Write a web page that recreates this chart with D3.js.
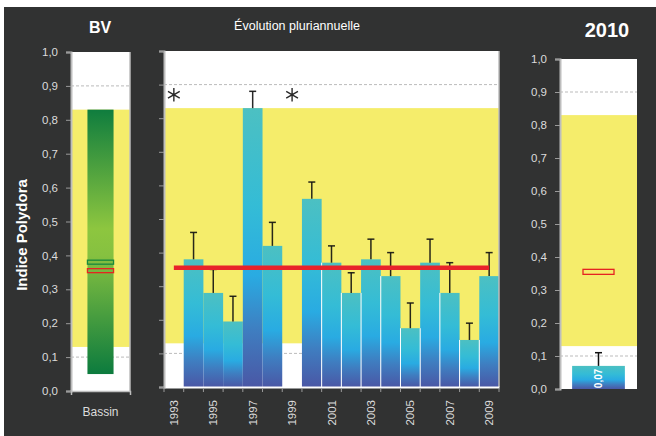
<!DOCTYPE html>
<html><head><meta charset="utf-8">
<script src="https://cdn.jsdelivr.net/npm/d3@7"></script>
<style>body{margin:0;background:#fff}text{font-family:'Liberation Sans',Arial,sans-serif}</style>
</head><body>
<svg id="c" width="656" height="436"></svg>
<script>
// ---- data ----
const years = [1993,1994,1995,1996,1997,1998,1999,2000,2001,2002,2003,2004,2005,2006,2007,2008,2009];
const values = [null,0.38,0.28,0.195,0.83,0.42,null,0.56,0.37,0.28,0.38,0.33,0.175,0.37,0.28,0.14,0.33];
const errorTops = [null,0.46,0.35,0.27,0.88,0.49,null,0.61,0.42,0.34,0.44,0.40,0.25,0.44,0.37,0.19,0.40];
const noDataYears = [1993,1999];
const noDataMarkerValue = [0.87];
const yearLabels = [1993,1995,1997,1999,2001,2003,2005,2007,2009];
const meanValue = [0.355];
const refBand = [0.13,0.83];
const basinCategory = ["Bassin"];
const basinRange = [0.05,0.83];
const basinMean = [0.38];
const currentCategory = ["2010"];
const currentValue = [0.07];
const currentErrorTop = [0.11];
const currentLabel = ["0,07"];
const yTicks = [0,0.1,0.2,0.3,0.4,0.5,0.6,0.7,0.8,0.9,1.0];
const gridValues = [0.1,0.9];

const svg = d3.select("#c");
const fmt = d => d.toFixed(1).replace(".", ",");
const AX = "#bdbdbd", LBL = "#dcdcdc", YEL = "#f5ed6b";

svg.append("rect").attr("x",0).attr("y",0).attr("width",656).attr("height",436).attr("fill","#fff");
svg.append("rect").attr("x",4).attr("y",7).attr("width",652).attr("height",429).attr("fill","#313232");

const defs = svg.append("defs");
const gb = defs.append("linearGradient").attr("id","blueG").attr("x1",0).attr("y1",0).attr("x2",0).attr("y2",1);
[[0,"#4cc0c2"],[0.35,"#34bcd6"],[0.6,"#29abe2"],[0.8,"#3f7dc0"],[1,"#4a57a5"]].forEach(s=>gb.append("stop").attr("offset",s[0]).attr("stop-color",s[1]));
const gg = defs.append("linearGradient").attr("id","greenG").attr("x1",0).attr("y1",0).attr("x2",0).attr("y2",1);
[[0,"#0f7d3e"],[0.45,"#8dc63f"],[0.55,"#86c140"],[1,"#0c7b3e"]].forEach(s=>gg.append("stop").attr("offset",s[0]).attr("stop-color",s[1]));

function panelBase(x0,x1,y){
  const g = svg.append("g");
  g.append("rect").attr("x",x0).attr("y",y(1)).attr("width",x1-x0).attr("height",y(0)-y(1)).attr("fill","#fff");
  g.append("rect").attr("x",x0).attr("y",y(refBand[1])).attr("width",x1-x0).attr("height",y(refBand[0])-y(refBand[1])).attr("fill",YEL);
  g.selectAll("line.grid").data(gridValues).join("line").attr("class","grid")
    .attr("x1",x0).attr("x2",x1).attr("y1",d=>y(d)).attr("y2",d=>y(d))
    .attr("stroke","#bbb").attr("stroke-width",1).attr("stroke-dasharray","3,2");
  return g;
}
function leftAxis(x,y,labels){
  const a = svg.append("g").attr("transform",`translate(${x},0)`)
    .call(d3.axisLeft(y).tickValues(yTicks).tickSize(5).tickPadding(8).tickFormat(labels?fmt:""));
  a.select(".domain").attr("stroke",AX).attr("stroke-width",2);
  a.selectAll(".tick line").attr("stroke","#9a9a9a");
  a.selectAll(".tick text").attr("fill",LBL).attr("font-size",11.5).attr("font-family","'Liberation Sans',Arial,sans-serif");
  return a;
}

// ---- left panel (BV) ----
const yL = d3.scaleLinear().domain([0,1]).range([391,52]);
const xL = d3.scaleBand().domain(basinCategory).range([71,130]).paddingOuter(0.63);
panelBase(71,130,yL);
svg.append("rect").attr("x",xL("Bassin")).attr("width",xL.bandwidth())
  .attr("y",yL(basinRange[1])).attr("height",yL(basinRange[0])-yL(basinRange[1])).attr("fill","url(#greenG)");
svg.append("rect").attr("x",xL("Bassin")).attr("width",xL.bandwidth())
  .attr("y",yL(basinMean[0])-2).attr("height",4).attr("fill","none").attr("stroke","#17893d").attr("stroke-width",1.3);
svg.append("rect").attr("x",xL("Bassin")).attr("width",xL.bandwidth())
  .attr("y",yL(meanValue[0])-2).attr("height",4).attr("fill","none").attr("stroke","#e52421").attr("stroke-width",1.3);
svg.append("line").attr("x1",130).attr("x2",130).attr("y1",yL(1)).attr("y2",yL(0)).attr("stroke",AX).attr("stroke-width",1.5);
const bxL = svg.append("g").attr("transform","translate(0,391)").call(d3.axisBottom(d3.scaleLinear().range([71,130])).tickValues([]).tickSizeOuter(4));
bxL.select(".domain").attr("stroke",AX).attr("stroke-width",1.5);
leftAxis(71,yL,true);
svg.append("text").attr("x",xL("Bassin")+xL.bandwidth()/2).attr("y",416).attr("text-anchor","middle")
  .attr("fill",LBL).attr("font-size",12).text(basinCategory[0]);
svg.append("text").attr("x",100).attr("y",33).attr("text-anchor","middle").attr("fill","#fff")
  .attr("font-weight","bold").attr("font-size",16).text("BV");
svg.append("text").attr("transform","translate(27,235) rotate(-90)").attr("text-anchor","middle")
  .attr("fill","#fff").attr("font-weight","bold").attr("font-size",15).text("Indice Polydora");

// ---- middle panel ----
const yM = d3.scaleLinear().domain([0,1]).range([387,51]);
const xM = d3.scaleBand().domain(years).range([164,499]).padding(0);
panelBase(164,499,yM);
const data = years.map((y,i)=>({year:y,v:values[i],e:errorTops[i]})).filter(d=>d.v!=null);
svg.append("g").selectAll("rect").data(data).join("rect")
  .attr("x",d=>xM(d.year)).attr("width",xM.bandwidth())
  .attr("y",d=>yM(d.v)).attr("height",d=>yM(0)-yM(d.v)).attr("fill","url(#blueG)");
svg.append("g").selectAll("line").data(data.filter(d=>d.year>2000)).join("line")
  .attr("x1",d=>xM(d.year)).attr("x2",d=>xM(d.year))
  .attr("y1",d=>yM(Math.min(d.v,values[years.indexOf(d.year)-1]||0))).attr("y2",yM(0))
  .attr("stroke","#fff").attr("stroke-width",1);
const eb = svg.append("g").attr("stroke","#111").attr("stroke-width",1.5).attr("stroke-opacity",0.9);
eb.selectAll("line.v").data(data).join("line").attr("class","v")
  .attr("x1",d=>xM(d.year)+xM.bandwidth()/2).attr("x2",d=>xM(d.year)+xM.bandwidth()/2)
  .attr("y1",d=>yM(d.v)).attr("y2",d=>yM(d.e));
eb.selectAll("line.c").data(data).join("line").attr("class","c")
  .attr("x1",d=>xM(d.year)+xM.bandwidth()/2-3.5).attr("x2",d=>xM(d.year)+xM.bandwidth()/2+3.5)
  .attr("y1",d=>yM(d.e)).attr("y2",d=>yM(d.e));
svg.append("g").selectAll("path").data(noDataYears).join("path")
  .attr("transform",d=>`translate(${xM(d)+xM.bandwidth()/2},${yM(noDataMarkerValue[0])})`)
  .attr("d",d3.symbol(d3.symbolAsterisk,130)).attr("fill","none").attr("stroke","#2a2a2a").attr("stroke-width",1.4);
svg.append("line").attr("x1",xM(years[0])+xM.bandwidth()/2).attr("x2",xM(years[years.length-1])+xM.bandwidth()/2)
  .attr("y1",yM(meanValue[0])).attr("y2",yM(meanValue[0])).attr("stroke","#e8232a").attr("stroke-width",4.5);
svg.append("line").attr("x1",499).attr("x2",499).attr("y1",yM(1)).attr("y2",yM(0)).attr("stroke",AX).attr("stroke-width",1.5);
const bx = svg.append("g").attr("transform","translate(0,387)")
  .call(d3.axisBottom(xM).tickSize(0).tickFormat(""));
bx.select(".domain").attr("stroke","#fff").attr("stroke-width",2);
svg.append("g").selectAll("line").data(years.concat([null])).join("line")
  .attr("x1",(d,i)=>164+i*xM.step()).attr("x2",(d,i)=>164+i*xM.step())
  .attr("y1",388).attr("y2",392).attr("stroke","#9a9a9a");
leftAxis(164,yM,false);
svg.append("g").selectAll("text").data(yearLabels).join("text")
  .attr("transform",d=>`translate(${xM(d)+xM.bandwidth()/2+4},400) rotate(-90)`)
  .attr("text-anchor","end").attr("fill",LBL).attr("font-size",11.5).text(d=>d);
svg.append("text").attr("x",297).attr("y",30).attr("text-anchor","middle").attr("fill","#fff")
  .attr("font-size",12.5).text("Évolution pluriannuelle");

// ---- right panel (2010) ----
const yR = d3.scaleLinear().domain([0,1]).range([389,59]);
const xR = d3.scaleBand().domain(currentCategory).range([560,637]).paddingOuter(0.23);
panelBase(560,637,yR);
svg.append("rect").attr("x",xR("2010")).attr("width",xR.bandwidth())
  .attr("y",yR(currentValue[0])).attr("height",yR(0)-yR(currentValue[0])).attr("fill","url(#blueG)");
const cx = xR("2010")+xR.bandwidth()/2;
svg.append("line").attr("x1",cx).attr("x2",cx).attr("y1",yR(currentValue[0])).attr("y2",yR(currentErrorTop[0])).attr("stroke","#111").attr("stroke-width",1.5);
svg.append("line").attr("x1",cx-3.5).attr("x2",cx+3.5).attr("y1",yR(currentErrorTop[0])).attr("y2",yR(currentErrorTop[0])).attr("stroke","#111").attr("stroke-width",1.5);
svg.append("rect").attr("x",cx-15.5).attr("width",31).attr("y",yR(meanValue[0])-2.5).attr("height",5)
  .attr("fill","none").attr("stroke","#e52421").attr("stroke-width",1.3);
svg.append("g").attr("transform",`translate(${cx+3.5},${(yR(currentValue[0])+yR(0))/2+1})`)
  .append("text").attr("transform","rotate(-90)")
  .attr("text-anchor","middle").attr("fill","#fff").attr("font-size",10).attr("font-weight","bold").text(currentLabel[0]);
leftAxis(560,yR,true);
svg.append("text").attr("x",607).attr("y",37).attr("text-anchor","middle").attr("fill","#fff")
  .attr("font-weight","bold").attr("font-size",20).text("2010");
</script>
</body></html>
